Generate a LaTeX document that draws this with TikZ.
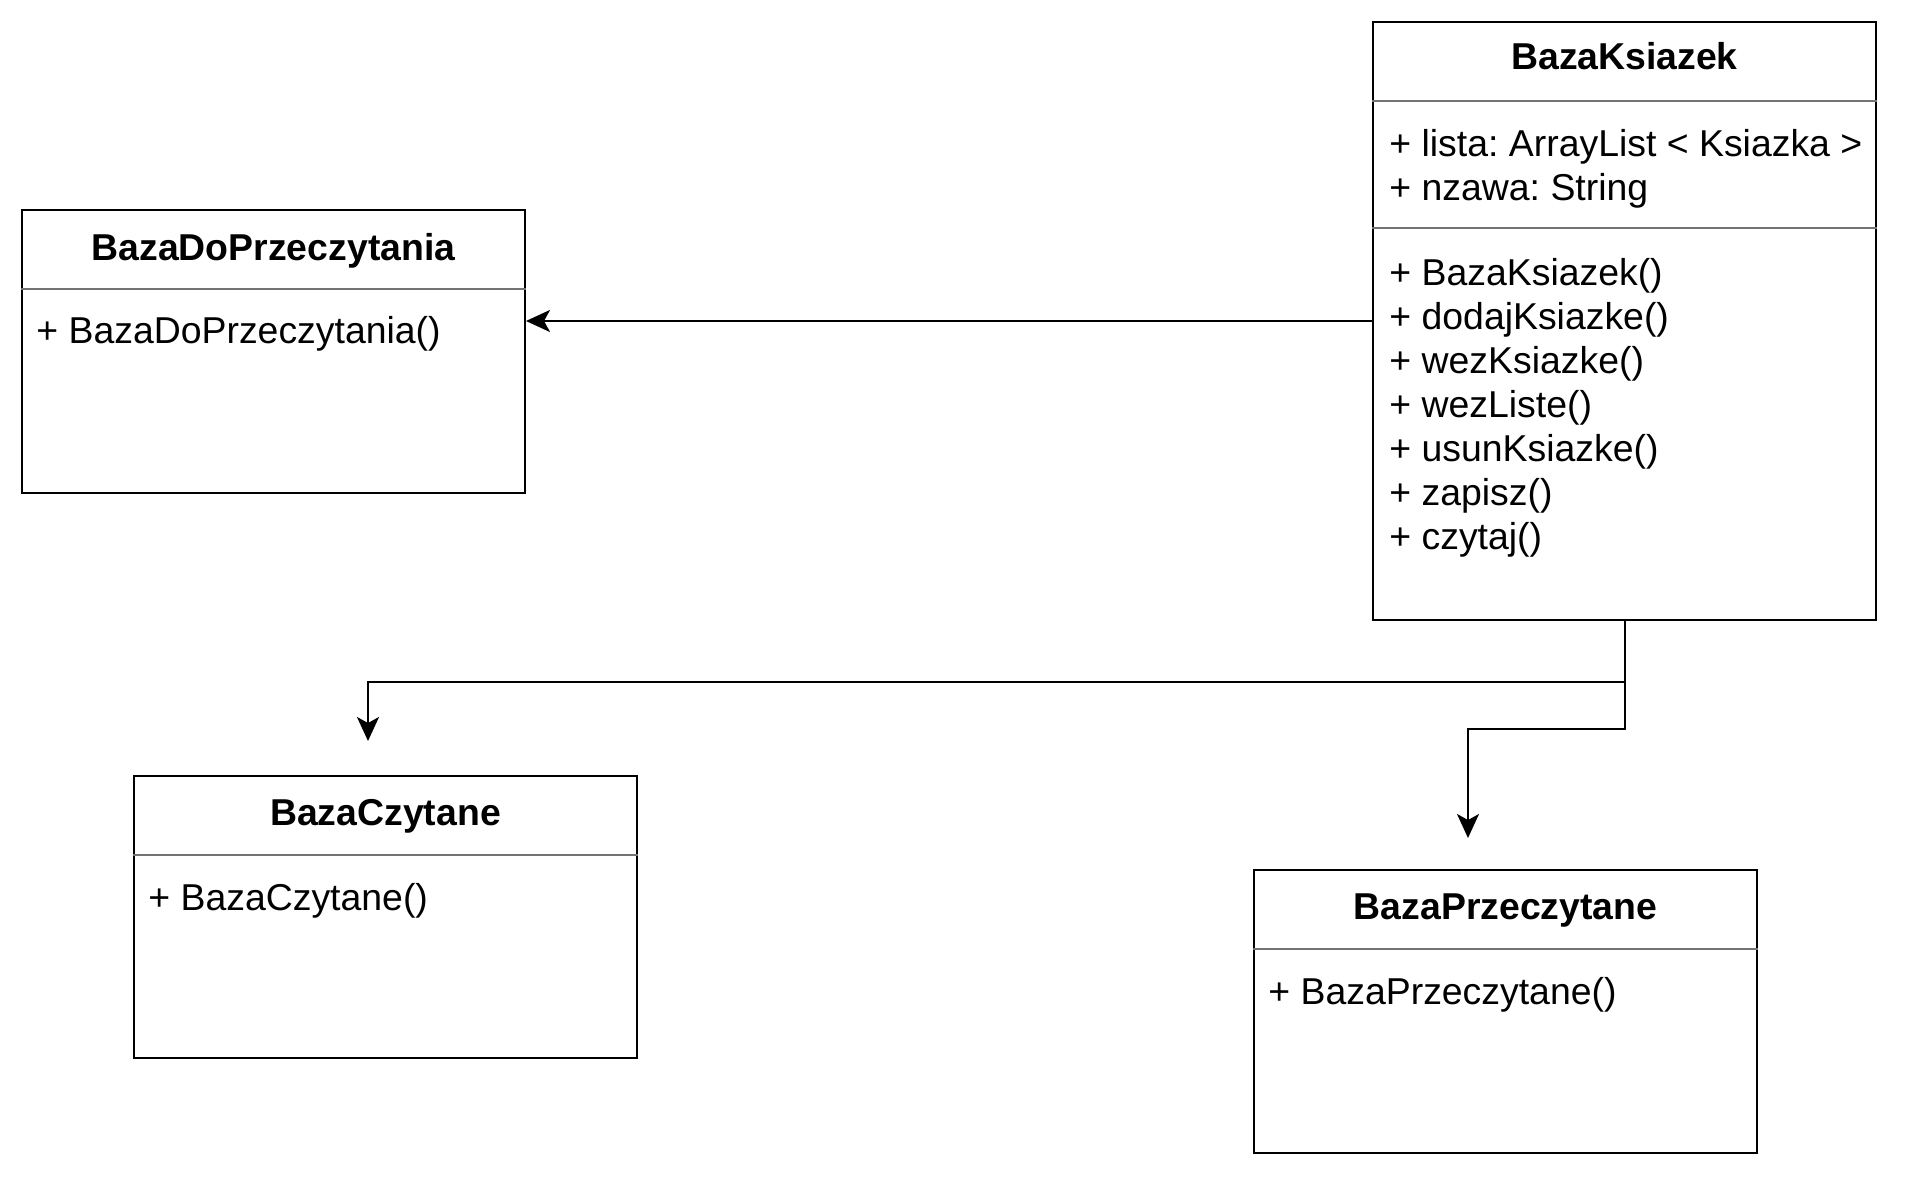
\documentclass[tikz,border=0pt]{standalone}
\usepackage{fontspec}
\setmainfont{Liberation Sans}
\usetikzlibrary{arrows.meta}
\frenchspacing
\begin{document}
\begin{tikzpicture}[x=0.5pt,y=-0.5pt,
  umlbox/.style={draw=black,line width=1pt,rectangle,inner sep=0pt,fill=white},
  divider/.style={draw=black!55,line width=0.8pt},
  ttl/.style={inner sep=0pt,anchor=base,font=\fontsize{18.7}{22}\selectfont\bfseries},
  mbr/.style={inner sep=0pt,anchor=base west,font=\fontsize{18.7}{22}\selectfont},
  arr/.style={draw=black,line width=1pt,-{Stealth[length=12pt,width=11pt,inset=3pt]}}
]
\useasboundingbox (0,0) rectangle (1905,1177);
\fill[white] (0,0) rectangle (1905,1177);

% BazaKsiazek
\node[umlbox,minimum width=251.5pt,minimum height=299pt] (bk) at (1624.5,321) {};
\draw[divider] (bk.west |- 0,101) -- (bk.east |- 0,101);
\draw[divider] (bk.west |- 0,228) -- (bk.east |- 0,228);
\node[ttl] (bkt) at (1624.5,70) {BazaKsiazek};
\node[mbr] (bka1) at (1389,156) {+ lista: ArrayList < Ksiazka >};
\node[mbr] (bka2) at (1389,200) {+ nzawa: String};
\node[mbr] (bkm1) at (1389,285) {+ BazaKsiazek()};
\node[mbr] (bkm2) at (1389,329) {+ dodajKsiazke()};
\node[mbr] (bkm3) at (1389,373) {+ wezKsiazke()};
\node[mbr] (bkm4) at (1389,417) {+ wezListe()};
\node[mbr] (bkm5) at (1389,461) {+ usunKsiazke()};
\node[mbr] (bkm6) at (1389,505) {+ zapisz()};
\node[mbr] (bkm7) at (1389,549) {+ czytaj()};

% BazaDoPrzeczytania
\node[umlbox,minimum width=251.5pt,minimum height=141.5pt] (bdp) at (273.5,351.5) {};
\draw[divider] (bdp.west |- 0,289) -- (bdp.east |- 0,289);
\node[ttl] (bdpt) at (273.5,260) {BazaDoPrzeczytania};
\node[mbr] (bdpm) at (36,343) {+ BazaDoPrzeczytania()};

% BazaCzytane
\node[umlbox,minimum width=251.5pt,minimum height=141pt] (bc) at (385.5,917) {};
\draw[divider] (bc.west |- 0,855) -- (bc.east |- 0,855);
\node[ttl] (bct) at (385.5,825) {BazaCzytane};
\node[mbr] (bcm) at (148,910) {+ BazaCzytane()};

% BazaPrzeczytane
\node[umlbox,minimum width=251.5pt,minimum height=141.5pt] (bp) at (1505.5,1011.5) {};
\draw[divider] (bp.west |- 0,949) -- (bp.east |- 0,949);
\node[ttl] (bpt) at (1505.5,919) {BazaPrzeczytane};
\node[mbr] (bpm) at (1268,1004) {+ BazaPrzeczytane()};

% connectors
\draw[arr] (bk.west |- 0,321) -- (bdp.east |- 0,321);
\coordinate (j1) at (1624.5,682);
\coordinate (j2) at (1624.5,729);
\coordinate (tipc) at (368,741);
\coordinate (tipp) at (1468,838);
\draw[arr] (bk.south) -- (j1) -| (tipc);
\draw[arr] (j1) -- (j2) -| (tipp);
\end{tikzpicture}
\end{document}
